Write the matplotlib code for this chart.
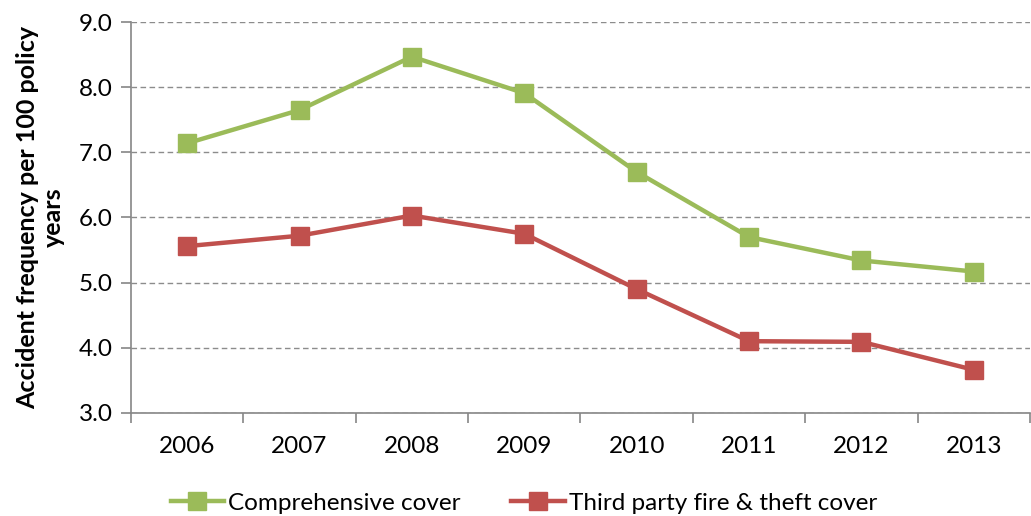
import matplotlib
matplotlib.use("Agg")
import matplotlib.pyplot as plt
import numpy as np

years = ["2006", "2007", "2008", "2009", "2010", "2011", "2012", "2013"]
comprehensive = [7.14, 7.65, 8.47, 7.91, 6.70, 5.70, 5.34, 5.17]
third_party = [5.56, 5.72, 6.03, 5.75, 4.90, 4.10, 4.09, 3.66]
series_names = ["Comprehensive cover", "Third party fire & theft cover"]
yticks = [3.0, 4.0, 5.0, 6.0, 7.0, 8.0, 9.0]

plt.rcParams['font.family'] = ['Lato', 'DejaVu Sans']

fig = plt.figure(figsize=(10.31, 5.16), dpi=100)
ax = fig.add_axes([0.127, 0.2, 0.872, 0.757])

x = np.arange(len(years))
ax.plot(x, comprehensive, color='#9BBB59', lw=3.2, marker='s', ms=13,
        label=series_names[0], solid_joinstyle='round')
ax.plot(x, third_party, color='#C0504D', lw=3.2, marker='s', ms=13,
        label=series_names[1], solid_joinstyle='round')

ax.set_xlim(-0.5, len(years) - 0.5)
ax.set_ylim(3.0, 9.0)
ax.set_yticks(yticks)
ax.set_yticklabels([f"{v:.1f}" for v in yticks], fontsize=17.5)
ax.set_xticks(x)
ax.set_xticklabels(years, fontsize=17.5)
ax.set_xticks(np.arange(-0.5, len(years)), minor=True)
ax.tick_params(axis='x', which='major', length=0, pad=17)
ax.tick_params(axis='x', which='minor', length=7, color='#868686', width=1.2)
ax.tick_params(axis='y', length=7, color='#868686', width=1.2, pad=6)

for s in ['top', 'right']:
    ax.spines[s].set_visible(False)
for s in ['left', 'bottom']:
    ax.spines[s].set_color('#868686')
    ax.spines[s].set_linewidth(1.2)

ax.yaxis.grid(True, linestyle=(0, (4, 2.5)), color='#8c8c8c', lw=1)
ax.set_axisbelow(True)

ax.set_ylabel("Accident frequency per 100 policy\nyears", fontsize=18,
              fontweight='bold', labelpad=10, linespacing=1.15)

leg = fig.legend(loc='lower center', bbox_to_anchor=(0.508, -0.038), ncol=2,
                 frameon=False, fontsize=17.5, handlelength=2.2,
                 columnspacing=2.1, handletextpad=0.15)

fig.savefig("out.png", dpi=100)
